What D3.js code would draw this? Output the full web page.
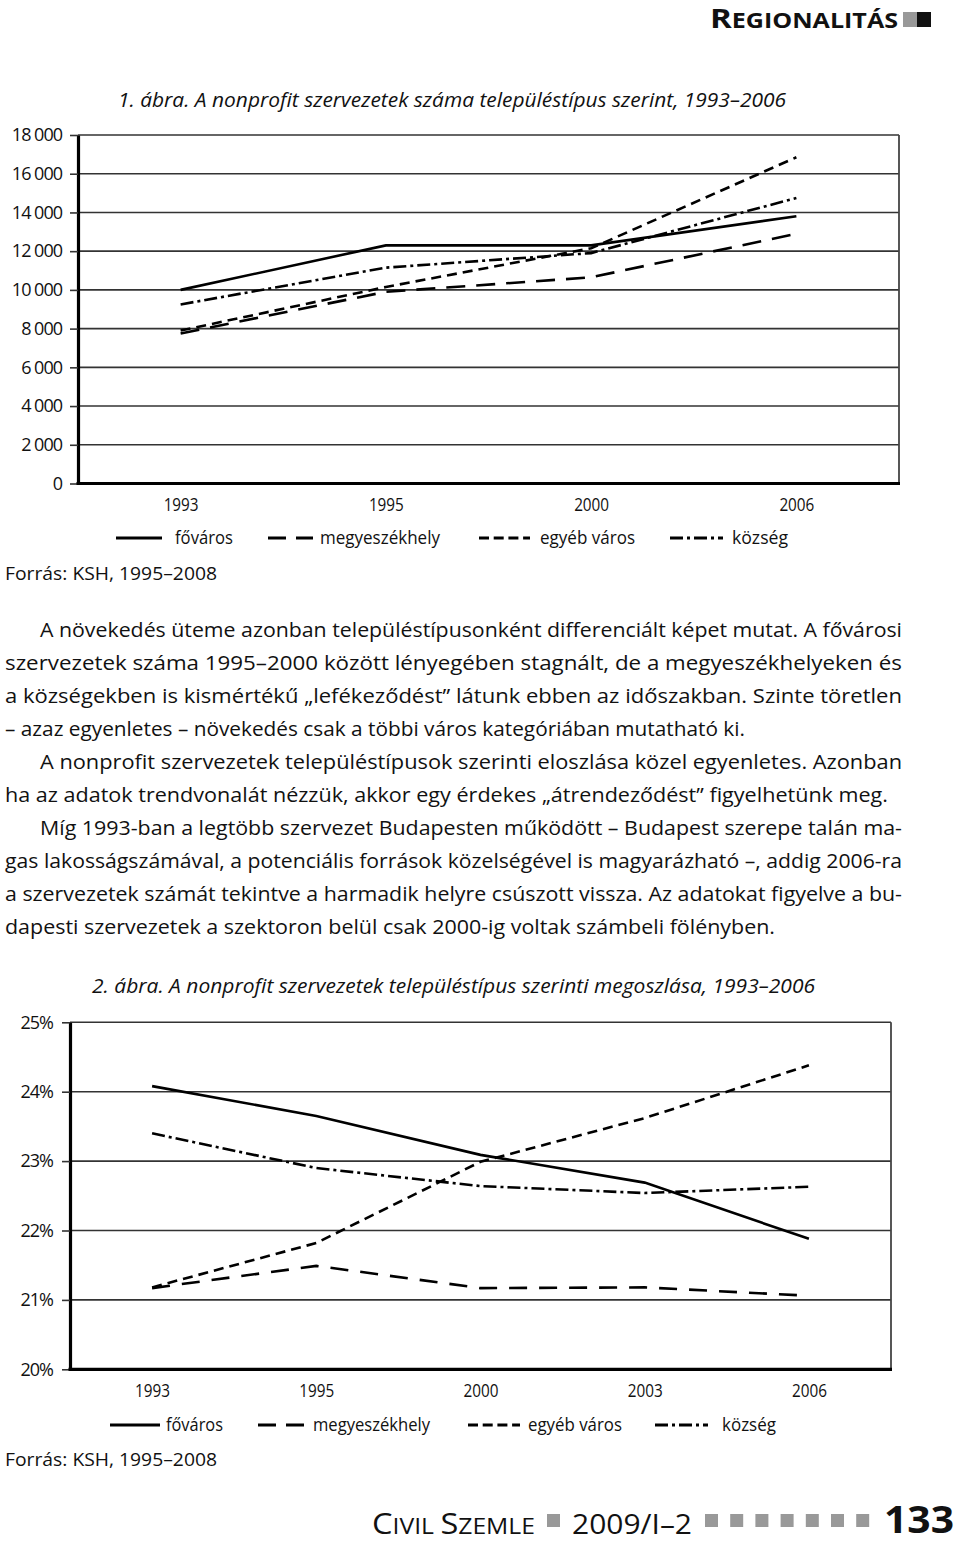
<!DOCTYPE html>
<html>
<head>
<meta charset="utf-8">
<script src="https://cdn.jsdelivr.net/npm/d3@7/dist/d3.min.js"></script>
<style>
  html, body { margin: 0; padding: 0; background: #fff; }
  svg { display: block; }
  text { font-family: "Open Sans", "Noto Sans", sans-serif; fill: #111; }
</style>
</head>
<body>
<script>
// ---------- DATA ----------
const seriesNames = ["főváros", "megyeszékhely", "egyéb város", "község"];

// Chart 1: number of organisations
const years1 = ["1993", "1995", "2000", "2006"];
const fovaros1 = [10000, 12300, 12300, 13800];
const megye1   = [7750, 9900, 10650, 12900];
const egyeb1   = [7900, 10150, 12150, 16850];
const kozseg1  = [9250, 11150, 11900, 14750];
const yTicks1  = [0, 2000, 4000, 6000, 8000, 10000, 12000, 14000, 16000, 18000];

// Chart 2: share (%)
const years2 = ["1993", "1995", "2000", "2003", "2006"];
const fovaros2 = [24.08, 23.65, 23.09, 22.69, 21.88];
const megye2   = [21.17, 21.49, 21.17, 21.18, 21.06];
const egyeb2   = [21.18, 21.82, 22.99, 23.62, 24.38];
const kozseg2  = [23.40, 22.90, 22.64, 22.54, 22.63];
const yTicks2  = [20, 21, 22, 23, 24, 25];

const title1 = "1. ábra. A nonprofit szervezetek száma településtípus szerint, 1993–2006";
const title2 = "2. ábra. A nonprofit szervezetek településtípus szerinti megoszlása, 1993–2006";
const source = "Forrás: KSH, 1995–2008";

const paragraph = [
  "A növekedés üteme azonban településtípusonként differenciált képet mutat. A fővárosi",
  "szervezetek száma 1995–2000 között lényegében stagnált, de a megyeszékhelyeken és",
  "a községekben is kismértékű „lefékeződést” látunk ebben az időszakban. Szinte töretlen",
  "– azaz egyenletes – növekedés csak a többi város kategóriában mutatható ki.",
  "A nonprofit szervezetek településtípusok szerinti eloszlása közel egyenletes. Azonban",
  "ha az adatok trendvonalát nézzük, akkor egy érdekes „átrendeződést” figyelhetünk meg.",
  "Míg 1993-ban a legtöbb szervezet Budapesten működött – Budapest szerepe talán ma-",
  "gas lakosságszámával, a potenciális források közelségével is magyarázható –, addig 2006-ra",
  "a szervezetek számát tekintve a harmadik helyre csúszott vissza. Az adatokat figyelve a bu-",
  "dapesti szervezetek a szektoron belül csak 2000-ig voltak számbeli fölényben."
];

// ---------- STYLES ----------
const dashes1 = [null, "19,11", "10,6", "13,4,3,4"];
const dashes2 = [null, "18,12", "10,6", "13,4,3,4"];
const legendDash = [null, "18,10", "10,4.7", "13,4,3,4"];

const svg = d3.select("body").append("svg").attr("width", 960).attr("height", 1545);

// ---------- HEADER ----------
const hdr = svg.append("text").attr("x", 710).attr("y", 28)
  .attr("font-weight", 700).attr("textLength", 188).attr("lengthAdjust", "spacingAndGlyphs");
hdr.append("tspan").attr("font-size", 27).text("R");
hdr.append("tspan").attr("font-size", 20.5).text("EGIONALITÁS");
svg.append("rect").attr("x", 903).attr("y", 12).attr("width", 14).attr("height", 15).attr("fill", "#999");
svg.append("rect").attr("x", 917).attr("y", 12).attr("width", 14).attr("height", 15).attr("fill", "#111");

// ---------- CHART HELPER ----------
function drawChart(cfg) {
  const g = svg.append("g");
  const x = d3.scalePoint().domain(cfg.years).range([cfg.left, cfg.right]).padding(0.5);
  const y = d3.scaleLinear().domain(cfg.domain).range([cfg.bottom, cfg.top]);

  // gridlines
  g.append("g").selectAll("line").data(cfg.ticks.slice(1)).join("line")
    .attr("x1", cfg.left).attr("x2", cfg.right)
    .attr("y1", d => y(d)).attr("y2", d => y(d))
    .attr("stroke", "#333").attr("stroke-width", 1.6);
  // right border
  g.append("line").attr("x1", cfg.right).attr("x2", cfg.right)
    .attr("y1", cfg.top).attr("y2", cfg.bottom).attr("stroke", "#444").attr("stroke-width", 1.8);

  // y axis
  const ya = g.append("g").attr("transform", `translate(${cfg.left},0)`)
    .call(d3.axisLeft(y).tickValues(cfg.ticks).tickSize(8).tickSizeOuter(0)
      .tickPadding(cfg.tickPad).tickFormat(cfg.fmt));
  ya.select(".domain").attr("stroke", "#000").attr("stroke-width", 3.2);
  ya.selectAll(".tick line").attr("stroke", "#333").attr("stroke-width", 1.6);
  ya.selectAll(".tick text").attr("font-family", "Open Sans").attr("font-size", 18)
    .attr("fill", "#111").attr("letter-spacing", "-1px");

  // x axis
  const xa = g.append("g").attr("transform", `translate(0,${cfg.bottom})`)
    .call(d3.axisBottom(x).tickSize(0).tickSizeOuter(0).tickPadding(cfg.xPad));
  xa.select(".domain").attr("stroke", "#000").attr("stroke-width", 3.2)
    .attr("d", `M${cfg.left - 1.5},0H${cfg.right + 1}`);
  xa.selectAll(".tick text").attr("font-family", "Open Sans").attr("font-size", 18)
    .attr("fill", "#111").attr("textLength", 35).attr("lengthAdjust", "spacingAndGlyphs");

  // series lines
  const line = d3.line().x((d, i) => x(cfg.years[i])).y(d => y(d));
  cfg.series.forEach((vals, i) => {
    g.append("path").datum(vals).attr("d", line)
      .attr("fill", "none").attr("stroke", "#000").attr("stroke-width", 2.6)
      .attr("stroke-dasharray", cfg.dashes[i]);
  });

  // title
  svg.append("text").attr("x", cfg.titleX).attr("y", cfg.titleY)
    .attr("font-size", 19.5).attr("font-style", "italic")
    .attr("textLength", cfg.titleLen).attr("lengthAdjust", "spacingAndGlyphs")
    .text(cfg.title);

  // legend
  const lg = svg.append("g").attr("transform", `translate(0,${cfg.legendY})`);
  cfg.legend.forEach((L, i) => {
    lg.append("line").attr("x1", L[0]).attr("x2", L[1]).attr("y1", 0).attr("y2", 0)
      .attr("stroke", "#000").attr("stroke-width", 3).attr("stroke-dasharray", legendDash[i]);
    lg.append("text").attr("x", L[2]).attr("y", 6).attr("font-size", 18)
      .attr("textLength", L[3] - L[2]).attr("lengthAdjust", "spacingAndGlyphs")
      .text(seriesNames[i]);
  });

  // source
  svg.append("text").attr("x", 5).attr("y", cfg.sourceY).attr("font-size", 18.5)
    .attr("textLength", 212).attr("lengthAdjust", "spacingAndGlyphs").text(source);
}

const fmtThousands = v => d3.format(",")(v).replace(/,/g, " ");

drawChart({
  years: years1, series: [fovaros1, megye1, egyeb1, kozseg1], dashes: dashes1,
  domain: [0, 18000], ticks: yTicks1, fmt: fmtThousands,
  left: 78, right: 899, top: 135, bottom: 483.5, tickPad: 8, xPad: 15,
  title: title1, titleX: 118, titleY: 107, titleLen: 668,
  legendY: 538,
  legend: [[116, 162, 175, 233], [268, 313, 320, 440], [479, 530, 540, 635], [670, 723, 732, 788]],
  sourceY: 580
});

drawChart({
  years: years2, series: [fovaros2, megye2, egyeb2, kozseg2], dashes: dashes2,
  domain: [20, 25], ticks: yTicks2, fmt: d => d + "%",
  left: 70, right: 891, top: 1022.3, bottom: 1369.3, tickPad: 9, xPad: 15,
  title: title2, titleX: 92, titleY: 993, titleLen: 723,
  legendY: 1425,
  legend: [[110, 160, 166, 223], [258, 306, 313, 430], [468, 520, 528, 622], [655, 708, 722, 776]],
  sourceY: 1466
});

// ---------- PARAGRAPH ----------
const lineStart = [40, 5, 5, 5, 40, 5, 40, 5, 5, 5];
const lineEnd   = [902, 902, 902, 745, 902, 888, 902, 902, 902, 775];
svg.append("g").selectAll("text").data(paragraph).join("text")
  .attr("x", (d, i) => lineStart[i])
  .attr("y", (d, i) => 637 + 33 * i)
  .attr("font-size", 20.5)
  .attr("textLength", (d, i) => lineEnd[i] - lineStart[i])
  .attr("lengthAdjust", "spacingAndGlyphs")
  .text(d => d);

// ---------- FOOTER ----------
const ft = svg.append("text").attr("x", 372).attr("y", 1534)
  .attr("textLength", 163).attr("lengthAdjust", "spacingAndGlyphs");
ft.append("tspan").attr("font-size", 29).text("C");
ft.append("tspan").attr("font-size", 22).text("IVIL ");
ft.append("tspan").attr("font-size", 29).text("S");
ft.append("tspan").attr("font-size", 22).text("ZEMLE");
svg.append("rect").attr("x", 547).attr("y", 1514).attr("width", 13).attr("height", 13).attr("fill", "#999");
svg.append("text").attr("x", 572).attr("y", 1534).attr("font-size", 28)
  .attr("textLength", 120).attr("lengthAdjust", "spacingAndGlyphs").text("2009/I–2");
d3.range(7).forEach(i => {
  svg.append("rect").attr("x", 705 + i * 25.2).attr("y", 1514).attr("width", 13).attr("height", 13).attr("fill", "#999");
});
svg.append("text").attr("x", 884).attr("y", 1533).attr("font-size", 38).attr("font-weight", 700)
  .attr("textLength", 70).attr("lengthAdjust", "spacingAndGlyphs").text("133");
</script>
</body>
</html>
